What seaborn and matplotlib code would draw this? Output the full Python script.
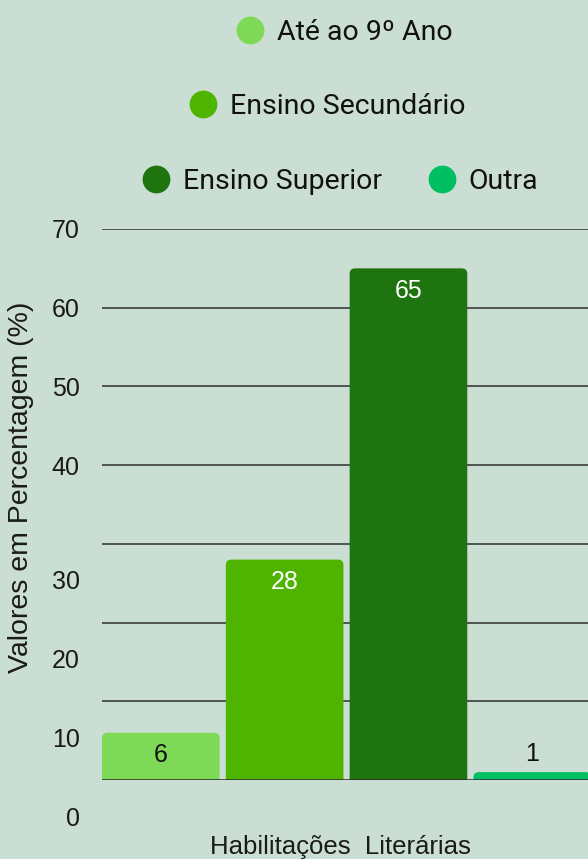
import matplotlib
matplotlib.use("Agg")
import matplotlib.pyplot as plt
import matplotlib.transforms as mtransforms
from matplotlib.lines import Line2D
from matplotlib.patches import FancyBboxPatch
import seaborn as sns

# Data
categories = ["Até ao 9º Ano", "Ensino Secundário", "Ensino Superior", "Outra"]
values = [6, 28, 65, 1]
colors = ["#7ed957", "#4fb400", "#1e7510", "#00bf63"]
label_colors = ["#111111", "white", "white", "#111111"]
y_ticks = [0, 10, 20, 30, 40, 50, 60, 70]

bg = "#cbded3"
sns.set_theme(style="white")
plt.rcParams["font.family"] = ["Liberation Sans", "DejaVu Sans"]

fig = plt.figure(figsize=(5.88, 8.59), dpi=100)
fig.patch.set_facecolor(bg)
ax = fig.add_axes([102 / 588, 79 / 859, 486 / 588, 551 / 859])
ax.set_facecolor(bg)

sns.barplot(x=categories, y=values, hue=categories, palette=colors, width=0.95,
            legend=False, saturation=1, ax=ax, zorder=3, linewidth=0)

ax.set_xlim(-0.475, 3.45)
ax.set_ylim(0, 70)

# swap plain bars for ones with slightly rounded top corners
for p in list(ax.patches):
    x, w, h = p.get_x(), p.get_width(), p.get_height()
    fb = FancyBboxPatch((x, -2), w, h + 2, boxstyle="round,pad=0,rounding_size=0.045",
                        mutation_aspect=15, facecolor=p.get_facecolor(),
                        edgecolor="none", zorder=3)
    p.remove()
    ax.add_patch(fb)

ax.set_yticks(y_ticks)
ax.set_yticklabels([str(t) for t in y_ticks])
for y in y_ticks[1:]:
    ax.axhline(y, color="#2e2e2e", lw=1.1, zorder=1)
ax.axhline(0, color="#2e2e2e", lw=1.1, zorder=4)
for s in ax.spines.values():
    s.set_visible(False)
ax.set_xticks([])
ax.tick_params(axis="y", length=0, pad=16, labelsize=18, labelcolor="#1a1a1a")

# the lower tick labels sit lower than their gridlines in the original
shift = mtransforms.ScaledTranslation(0, -36 / 100, fig.dpi_scale_trans)
for lbl in ax.get_yticklabels():
    if lbl.get_text() in ("0", "10", "20", "30"):
        lbl.set_transform(lbl.get_transform() + shift)

# value labels
for i, (v, c) in enumerate(zip(values, label_colors)):
    off = 13 if v < 3 else -16
    ax.annotate(str(v), (i, v), xytext=(0, off), textcoords="offset points",
                ha="center", va="center", fontsize=18, color=c, zorder=5)

ax.set_ylabel("Valores em Percentagem (%)", fontsize=20.5, color="#1a1a1a")
ax.yaxis.set_label_coords(-0.14, 0.532)
ax.set_xlabel("Habilitações  Literárias", fontsize=18.5, color="#1a1a1a")
ax.xaxis.set_label_coords(0.49, -0.122)
ax.xaxis.label.set_va("center")

# legend rows
def handle(c):
    return Line2D([], [], marker="o", ls="", markersize=19, markerfacecolor=c,
                  markeredgecolor=c)

rows = [([0], 0.585, 0.962), ([1], 0.557, 0.876), ([2, 3], 0.578, 0.789)]
for idx, xx, yy in rows:
    fig.legend([handle(colors[i]) for i in idx], [categories[i] for i in idx],
               loc="center", bbox_to_anchor=(xx, yy), ncol=len(idx),
               frameon=False, handlelength=1.0, handletextpad=0.45,
               columnspacing=1.6,
               prop={"family": "Roboto", "size": 20.5}, labelcolor="#111111")

fig.savefig("out.png", dpi=100, facecolor=bg)
